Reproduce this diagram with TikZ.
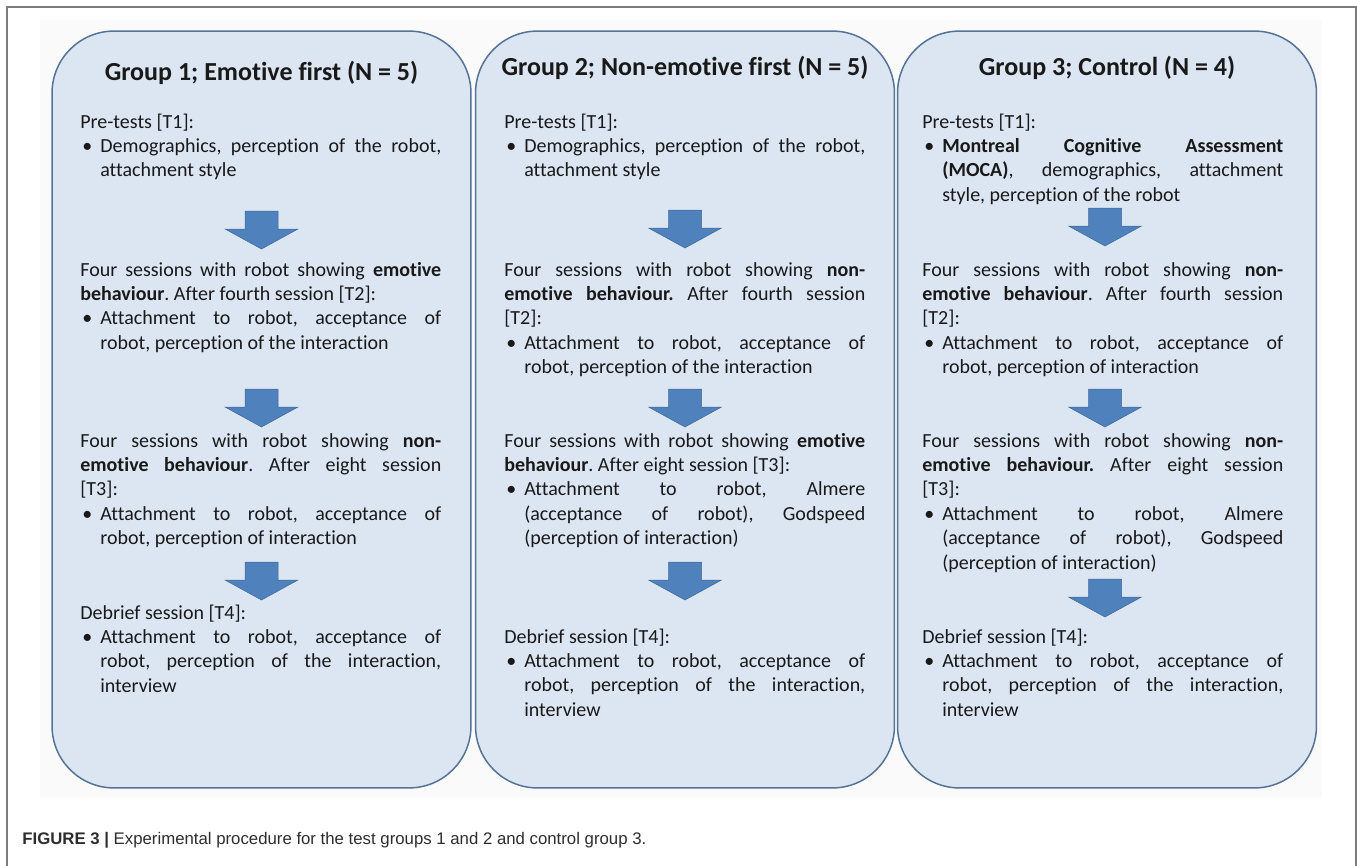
\documentclass[tikz,border=0pt]{standalone}
\usepackage{fontspec}
\setmainfont{Carlito}[Ligatures=NoCommon]
\newfontfamily\captionfont{Liberation Sans}
\usepackage{tikz}
\definecolor{boxfill}{RGB}{220, 230, 242}
\definecolor{boxline}{RGB}{85, 115, 150}
\definecolor{arrowfill}{RGB}{79, 129, 189}
\definecolor{arrowline}{RGB}{62, 104, 152}
\definecolor{framegray}{RGB}{125, 125, 125}
\definecolor{textdark}{RGB}{25, 25, 25}
\definecolor{captiongray}{RGB}{45, 45, 45}
\usepackage{xcolor}

\newcommand{\stagefont}{\fontsize{11.38}{13.94}\selectfont\frenchspacing\tolerance=10000 \hbadness=10000 \hyphenpenalty=10000 }
\newcommand{\bpoint}{\par\hangindent=0.4cm\hangafter=1\noindent\makebox[0.4cm][l]{\hspace{0.04cm}\textbullet}}

\tikzset{
    groupbox/.style={shape=rectangle,
                     rounded corners=1.24cm,
                     draw=boxline,
                     line width=0.03cm,
                     fill=boxfill,
                     inner sep=0pt,
                     minimum width=8.38cm,
                     minimum height=15.14cm},
    grouptitle/.style={anchor=base,
                       inner sep=0pt,
                       text=textdark,
                       font=\fontsize{14.8}{17}\selectfont\bfseries},
    stagetext/.style={anchor=base west,
                      inner sep=0pt,
                      text=textdark,
                      text width=7.22cm,
                      align=justify,
                      font=\stagefont},
    pics/downarrow/.style={code={
        \draw[fill=arrowfill, draw=arrowline, line width=0.01cm]
            (-16.5,0) -- (16.5,0) -- (16.5,18) -- (36.5,18) -- (0,38)
            -- (-36.5,18) -- (-16.5,18) -- cycle;}}
}

\begin{document}
\begin{tikzpicture}[x=0.02cm, y=-0.02cm]
        \useasboundingbox (0,0) rectangle (1357,866);
        \fill[black!2] (40,20) rectangle (1322,798);
        \draw[framegray, line width=0.04cm] (7,870) -- (7,7) -- (1356,7) -- (1356,870);

        \node[groupbox] (g1) at (261.5,409.5) {};
        \node[groupbox] (g2) at (685,409.5) {};
        \node[groupbox] (g3) at (1107,409.5) {};

        \node[grouptitle] (t1) at (261.5,80) {Group 1; Emotive first (N = 5)};
        \node[grouptitle] (t2) at (685,75) {Group 2; Non-emotive first (N = 5)};
        \node[grouptitle] (t3) at (1107,75) {Group 3; Control (N = 4)};

        \node[stagetext] (s11) at (80,128) {Pre-tests [T1]:\bpoint Demographics, perception of the robot,\linebreak{} attachment style\par};
        \node[stagetext] (s12) at (80,276) {Four sessions with robot showing \textbf{emotive}\linebreak{} \textbf{behaviour}. After fourth session [T2]:\bpoint Attachment to robot, acceptance of\linebreak{} robot, perception of the interaction\par};
        \node[stagetext] (s13) at (80,447) {Four sessions with robot showing \textbf{non-}\linebreak{}\textbf{emotive behaviour}. After eight session\linebreak{} {[T3]}:\bpoint Attachment to robot, acceptance of\linebreak{} robot, perception of interaction\par};
        \node[stagetext] (s14) at (80,619) {Debrief session [T4]:\bpoint Attachment to robot, acceptance of\linebreak{} robot, perception of the interaction,\linebreak{} interview\par};

        \node[stagetext] (s21) at (504,128) {Pre-tests [T1]:\bpoint Demographics, perception of the robot,\linebreak{} attachment style\par};
        \node[stagetext] (s22) at (504,276) {Four sessions with robot showing \textbf{non-}\linebreak{}\textbf{emotive behaviour.} After fourth session\linebreak{} {[T2]}:\bpoint Attachment to robot, acceptance of\linebreak{} robot, perception of the interaction\par};
        \node[stagetext] (s23) at (504,447) {Four sessions with robot showing \textbf{emotive}\linebreak{} \textbf{behaviour}. After eight session [T3]:\bpoint Attachment to robot, Almere\linebreak{} (acceptance of robot), Godspeed\linebreak{} (perception of interaction)\par};
        \node[stagetext] (s24) at (504,643) {Debrief session [T4]:\bpoint Attachment to robot, acceptance of\linebreak{} robot, perception of the interaction,\linebreak{} interview\par};

        \node[stagetext] (s31) at (922,128) {Pre-tests [T1]:\bpoint \textbf{Montreal Cognitive Assessment}\linebreak{} \textbf{(MOCA)}, demographics, attachment\linebreak{} style, perception of the robot\par};
        \node[stagetext] (s32) at (922,276) {Four sessions with robot showing \textbf{non-}\linebreak{}\textbf{emotive behaviour}. After fourth session\linebreak{} {[T2]}:\bpoint Attachment to robot, acceptance of\linebreak{} robot, perception of interaction\par};
        \node[stagetext] (s33) at (922,447) {Four sessions with robot showing \textbf{non-}\linebreak{}\textbf{emotive behaviour.} After eight session\linebreak{} {[T3]}:\bpoint Attachment to robot, Almere\linebreak{} (acceptance of robot), Godspeed\linebreak{} (perception of interaction)\par};
        \node[stagetext] (s34) at (922,643) {Debrief session [T4]:\bpoint Attachment to robot, acceptance of\linebreak{} robot, perception of the interaction,\linebreak{} interview\par};

        \foreach \ax/\ay in {261.5/211, 261.5/389, 261.5/562,
                             685/210, 685/389, 685/562,
                             1105/208, 1105/389, 1105/579}
            \pic at (\ax,\ay) {downarrow};

        \node[anchor=base west,
              inner sep=0pt,
              text=captiongray,
              font=\captionfont\fontsize{9.55}{11}\selectfont] (cap) at (22,844)
              {\textbf{FIGURE 3 |} Experimental procedure for the test groups 1 and 2 and control group 3.};
    \end{tikzpicture}
\end{document}
